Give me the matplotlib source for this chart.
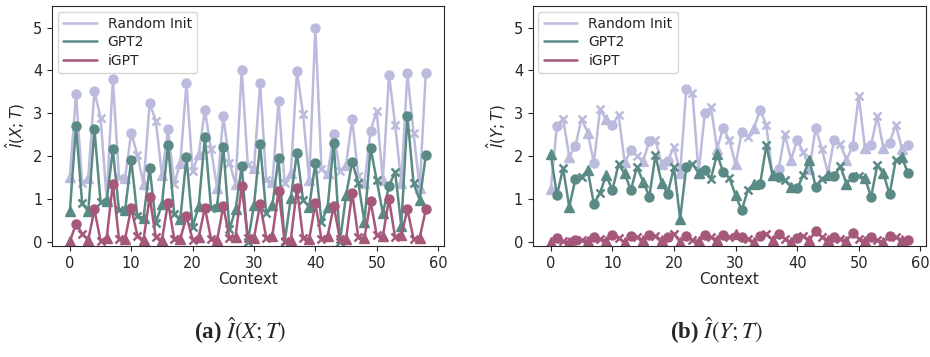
import numpy as np
import matplotlib
matplotlib.use("Agg")
import matplotlib.pyplot as plt
import seaborn as sns

sns.set_style("ticks")
plt.rcParams['font.family'] = ['DejaVu Sans']

context = np.arange(59)

# I(X;T) estimates per context position
ixt_random = [1.52, 3.46, 1.37, 1.50, 3.52, 2.90, 1.00, 3.80, 1.50, 1.50,
              2.55, 2.03, 1.35, 3.23, 2.83, 1.56, 2.63, 1.35, 1.85, 3.70,
              1.65, 2.05, 3.07, 2.17, 1.25, 2.93, 1.85, 1.35, 4.02, 1.79,
              1.72, 3.70, 1.44, 1.40, 3.28, 1.38, 1.60, 3.98, 2.98, 1.44,
              5.00, 1.71, 1.60, 2.51, 1.66, 1.80, 2.87, 1.54, 1.38, 2.60,
              3.05, 1.44, 3.90, 2.74, 1.38, 3.94, 2.55, 1.25, 3.95]
ixt_gpt2 = [0.72, 2.70, 0.90, 0.72, 2.63, 0.93, 0.95, 2.16, 0.75, 0.75,
            1.92, 0.60, 0.57, 1.73, 0.45, 0.88, 2.27, 0.65, 0.55, 1.98,
            0.35, 0.85, 2.45, 0.80, 0.85, 2.22, 0.30, 0.76, 1.77, 0.00,
            0.86, 2.28, 0.67, 0.86, 1.97, 0.00, 1.03, 2.08, 0.98, 0.82,
            1.85, 0.47, 0.82, 2.31, 0.00, 1.09, 1.87, 1.38, 0.47, 2.19,
            1.44, 0.67, 1.31, 1.64, 0.38, 2.94, 1.37, 0.98, 2.02]
ixt_igpt = [0.02, 0.42, 0.20, 0.05, 0.76, 0.03, 0.10, 1.36, 0.08, 0.08,
            0.80, 0.15, 0.05, 1.05, 0.12, 0.05, 0.92, 0.08, 0.08, 0.60,
            0.06, 0.12, 0.80, 0.08, 0.05, 0.84, 0.10, 0.12, 1.30, 0.10,
            0.10, 0.88, 0.10, 0.15, 1.19, 0.03, 0.05, 1.26, 0.09, 0.07,
            0.90, 0.07, 0.14, 0.84, 0.07, 0.07, 1.15, 0.11, 0.09, 0.95,
            0.16, 0.14, 1.00, 0.11, 0.16, 0.76, 0.08, 0.10, 0.76]

# I(Y;T) estimates per context position
iyt_random = [1.23, 2.70, 2.88, 1.99, 2.24, 2.88, 2.55, 1.85, 3.09, 2.86,
              2.72, 2.97, 1.86, 2.14, 2.01, 1.89, 2.35, 2.38, 1.82, 1.89,
              2.22, 1.61, 3.56, 3.48, 1.60, 3.00, 3.15, 2.18, 2.66, 2.37,
              1.81, 2.56, 2.46, 2.66, 3.08, 2.72, 1.56, 1.71, 2.52, 1.92,
              2.37, 2.10, 1.71, 2.66, 2.18, 1.60, 2.39, 2.28, 1.92, 2.23,
              3.41, 2.20, 2.26, 2.93, 2.20, 2.31, 2.74, 2.18, 2.26]
iyt_gpt2 = [2.05, 1.09, 1.72, 0.82, 1.47, 1.52, 1.68, 0.89, 1.15, 1.56,
            1.21, 1.81, 1.60, 1.21, 1.75, 1.41, 1.06, 2.03, 1.37, 1.13,
            1.75, 0.54, 1.75, 1.82, 1.61, 1.67, 1.48, 2.05, 1.63, 1.50,
            1.09, 0.74, 1.22, 1.36, 1.36, 2.26, 1.56, 1.52, 1.44, 1.29,
            1.25, 1.56, 1.91, 1.29, 1.48, 1.56, 1.53, 1.77, 1.36, 1.52,
            1.53, 1.50, 1.05, 1.79, 1.60, 1.11, 1.91, 1.98, 1.60]
iyt_igpt = [0.00, 0.10, 0.02, 0.00, 0.05, 0.05, 0.03, 0.12, 0.08, 0.03,
            0.16, 0.10, 0.00, 0.15, 0.12, 0.05, 0.17, 0.14, 0.05, 0.12,
            0.20, 0.00, 0.15, 0.05, 0.03, 0.16, 0.11, 0.06, 0.16, 0.12,
            0.20, 0.11, 0.08, 0.00, 0.14, 0.20, 0.05, 0.19, 0.08, 0.00,
            0.09, 0.14, 0.05, 0.26, 0.12, 0.05, 0.11, 0.08, 0.03, 0.22,
            0.08, 0.03, 0.11, 0.05, 0.00, 0.14, 0.12, 0.05, 0.06]

names = ["Random Init", "GPT2", "iGPT"]
colors = ["#bbbbdd", "#5a8a85", "#a5587a"]
markers = ["^", "o", "x"]  # cycles with context index

fig = plt.figure(figsize=(9.3, 3.57), dpi=100)
ax1 = fig.add_axes([0.056, 0.311, 0.421, 0.672])
ax2 = fig.add_axes([0.573, 0.311, 0.4226, 0.672])

panels = [(ax1, [ixt_random, ixt_gpt2, ixt_igpt], r"$\hat{I}(X;T)$"),
          (ax2, [iyt_random, iyt_gpt2, iyt_igpt], r"$\hat{I}(Y;T)$")]

for ax, series, ylab in panels:
    for vals, name, c in zip(series, names, colors):
        vals = np.array(vals)
        ax.plot(context, vals, color=c, lw=1.8, label=name)
        for k, m in enumerate(markers):
            sel = context % 3 == k
            if m == "x":
                ax.plot(context[sel], vals[sel], ls="none", marker=m, color=c,
                        ms=6, mew=1.8)
            else:
                ax.plot(context[sel], vals[sel], ls="none", marker=m, color=c,
                        ms=6.5)
    ax.set_ylim(-0.09, 5.5)
    ax.set_yticks([0, 1, 2, 3, 4, 5])
    ax.set_xticks([0, 10, 20, 30, 40, 50, 60])
    ax.set_xlabel("Context", fontsize=11, labelpad=1)
    ax.set_ylabel(ylab, fontsize=11)
    ax.tick_params(labelsize=10.5)
    ax.legend(loc="upper left", fontsize=10, handlelength=2.4,
              borderaxespad=0.4, labelspacing=0.3)

fig.text(0.258, 0.05, r"(a) $\hat{I}(X;T)$", ha="center", fontsize=16.5,
         family="Liberation Serif", weight="bold", math_fontfamily="stix")
fig.text(0.77, 0.05, r"(b) $\hat{I}(Y;T)$", ha="center", fontsize=16.5,
         family="Liberation Serif", weight="bold", math_fontfamily="stix")

fig.savefig("out.png", dpi=100)
